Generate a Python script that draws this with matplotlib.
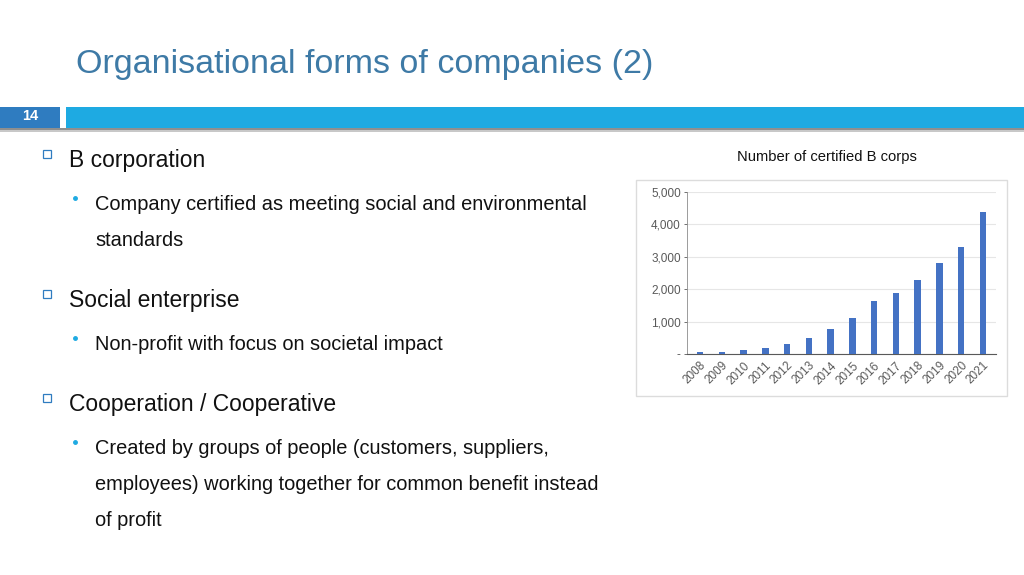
import numpy as np
import matplotlib.pyplot as plt
from matplotlib.patches import Rectangle

# data
years = ['2008', '2009', '2010', '2011', '2012', '2013', '2014',
         '2015', '2016', '2017', '2018', '2019', '2020', '2021']
bcorps = [50, 70, 135, 195, 310, 495, 780, 1120, 1645, 1890, 2285, 2800, 3290, 4380]
yticks = [0, 1000, 2000, 3000, 4000, 5000]
ylabels = ['-', '1,000', '2,000', '3,000', '4,000', '5,000']

W, H = 1024, 575
fig = plt.figure(figsize=(W / 100, H / 100), dpi=100)
plt.rcParams['font.family'] = ['Liberation Sans', 'DejaVu Sans']

# full-figure overlay in pixel coords (y down)
bg = fig.add_axes([0, 0, 1, 1])
bg.set_xlim(0, W)
bg.set_ylim(H, 0)
bg.axis('off')

# title
bg.text(76, 64, 'Organisational forms of companies (2)', fontsize=24.5,
        color='#3e7aa6', va='center', ha='left')

# header bars with shadow
bg.add_patch(Rectangle((0, 128), W, 2, color='#8f8f8f', lw=0))
bg.add_patch(Rectangle((0, 130), W, 2, color='#c8c8c8', lw=0))
bg.add_patch(Rectangle((0, 107), 60, 21, color='#2f7cc0', lw=0))
bg.add_patch(Rectangle((66, 107), W - 66, 21, color='#1eaae2', lw=0))
bg.text(30, 116, '14', fontsize=10.5, color='white', weight='bold',
        ha='center', va='center')

# bullets
items = [
    (161, 'B corporation', 1),
    (205, 'Company certified as meeting social and environmental', 2),
    (241, 'standards', 0),
    (301, 'Social enterprise', 1),
    (345, 'Non-profit with focus on societal impact', 2),
    (405, 'Cooperation / Cooperative', 1),
    (449, 'Created by groups of people (customers, suppliers,', 2),
    (485, 'employees) working together for common benefit instead', 0),
    (521, 'of profit', 0),
]
for y, txt, lvl in items:
    if lvl == 1:
        bg.add_patch(Rectangle((43, y - 11), 8, 8, fill=False,
                               edgecolor='#2f7cc0', lw=0.9))
        bg.text(69, y, txt, fontsize=16.5, color='#111111', va='center')
    else:
        if lvl == 2:
            bg.plot(75, y - 7, 'o', ms=2.5, color='#1eaae2')
        bg.text(95, y, txt, fontsize=14.4, color='#111111', va='center')

# chart frame and caption
bg.add_patch(Rectangle((636, 180), 371, 216, fill=False,
                       edgecolor='#dcdcdc', lw=1))
bg.text(827, 157, 'Number of certified B corps', fontsize=10.6,
        color='#111111', ha='center', va='center')

# bar chart
ax = fig.add_axes([687 / W, 1 - 354 / H, (996 - 687) / W, (354 - 192) / H])
x = np.arange(len(years))
ax.bar(x, bcorps, width=0.3, color='#4472c4', zorder=3)
ax.set_xlim(-0.6, len(years) - 0.4)
ax.set_ylim(0, 5000)
ax.set_yticks(yticks)
ax.set_yticklabels(ylabels)
ax.set_xticks(x)
ax.set_xticklabels(years, rotation=45, ha='right', rotation_mode='anchor')
ax.grid(axis='y', color='#e6e6e6', lw=0.8, zorder=0)
ax.tick_params(axis='both', labelsize=8.5, colors='#595959', length=2.5,
               width=0.6, pad=2)
ax.tick_params(axis='x', length=0, pad=4)
for s in ['top', 'right']:
    ax.spines[s].set_visible(False)
ax.spines['left'].set_color('#8c8c8c')
ax.spines['left'].set_linewidth(0.6)
ax.spines['bottom'].set_color('#595959')
ax.spines['bottom'].set_linewidth(0.8)

fig.savefig('out.png', dpi=100)
